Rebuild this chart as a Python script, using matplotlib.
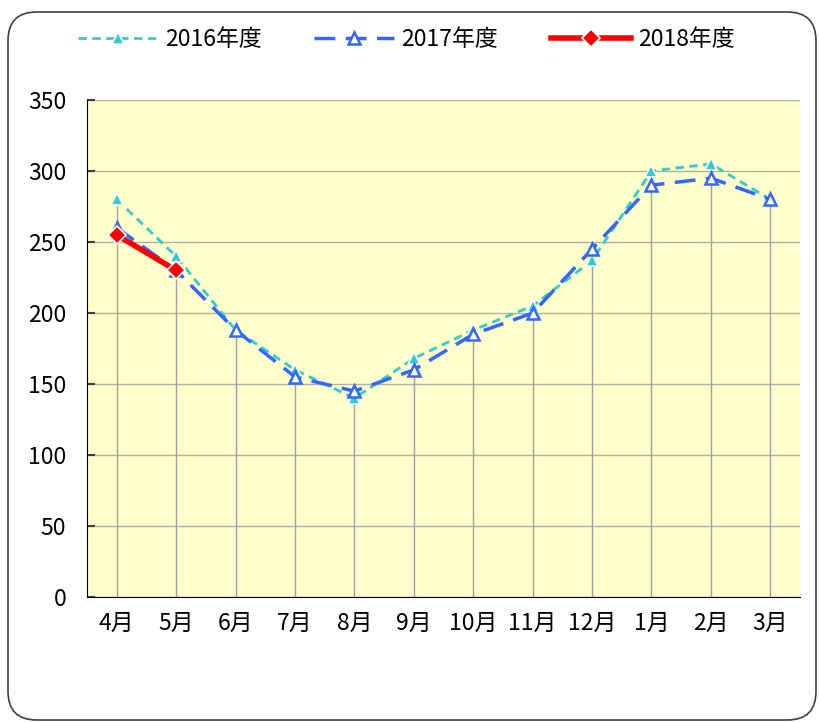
import matplotlib
matplotlib.use("Agg")
import matplotlib.pyplot as plt
from matplotlib.patches import FancyBboxPatch
import numpy as np

plt.rcParams['font.family'] = ['Noto Sans CJK JP', 'DejaVu Sans']

months = ["4月", "5月", "6月", "7月", "8月", "9月", "10月", "11月", "12月", "1月", "2月", "3月"]
fy2016 = [280, 240, 188, 160, 140, 168, 188, 205, 237, 300, 305, 280]
fy2017 = [260, 230, 188, 155, 145, 160, 185, 200, 245, 290, 295, 280]
fy2018 = [255, 230]
labels = ["2016年度", "2017年度", "2018年度"]
yticks = [0, 50, 100, 150, 200, 250, 300, 350]

W, H = 820, 722
fig = plt.figure(figsize=(W/100, H/100), dpi=100)

# rounded border
border = FancyBboxPatch((8/W, 2/H), (808)/W, (708)/H,
                        boxstyle="round,pad=0,rounding_size=0.035",
                        transform=fig.transFigure, facecolor="white",
                        edgecolor="#404040", linewidth=1.2, mutation_aspect=W/H,
                        zorder=-10)
fig.patches.append(border)

ax = fig.add_axes([87/W, 1-597/H, (800-87)/W, (597-100)/H])
ax.set_zorder(2)
ax.set_facecolor("#ffffcc")
x = np.arange(len(months))

# drop lines
maxv = [max(vals) for vals in zip(fy2016, fy2017)]
ax.vlines(x, 0, maxv, color="#a0a0a0", lw=1, zorder=1)

ax.plot(x, fy2016, color="#33cccc", lw=2, dashes=(3, 2), marker="^", ms=8,
        mfc="#33cccc", mec="white", mew=1.2, label=labels[0], zorder=3)
ax.plot(x, fy2017, color="#3366ff", lw=2.5, dashes=(6, 3), marker="^", ms=9,
        mfc="white", mec="#3366ff", mew=1.8, label=labels[1], zorder=4)
ax.plot(x[:len(fy2018)], fy2018, color="#ff0000", lw=4, marker="D", ms=9,
        mfc="#ff0000", mec="white", mew=1.2, label=labels[2], zorder=5)

ax.set_xlim(-0.5, 11.5)
ax.set_ylim(0, 350)
ax.set_yticks(yticks)
ax.set_xticks(x)
ax.set_xticklabels(months)
ax.yaxis.grid(True, color="#b0b0a0", lw=1)
ax.set_axisbelow(True)
for s in ["top", "right"]:
    ax.spines[s].set_visible(False)
ax.spines["left"].set_color("black")
ax.spines["bottom"].set_color("black")
ax.tick_params(axis="y", direction="in", length=6, labelsize=16.5, pad=15, width=1.5, color="#404040")
ax.tick_params(axis="x", length=0, labelsize=16.5, pad=11)

fig.legend(loc="center", bbox_to_anchor=(406/W, 1-40/H), ncol=3, frameon=False,
           fontsize=16.5, handlelength=3.5, columnspacing=2.3, handletextpad=0.3)

fig.savefig("out.png", dpi=100)
